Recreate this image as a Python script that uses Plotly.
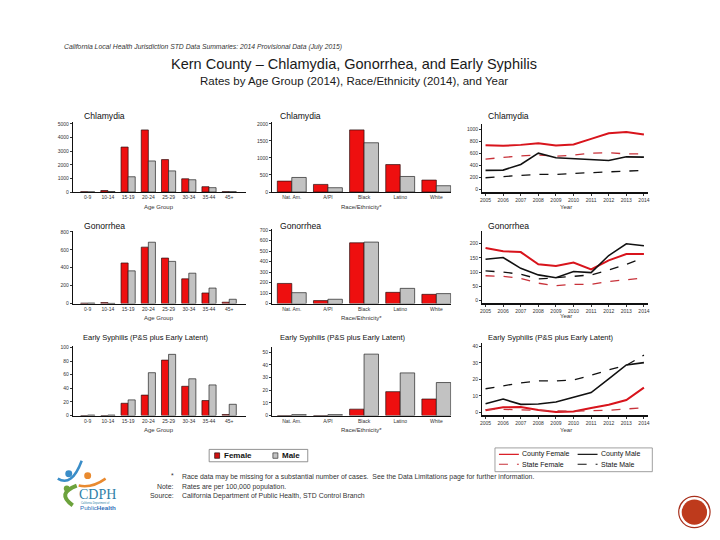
import plotly.graph_objects as go

W, H = 720, 540
FONT = "Liberation Sans"

# ---------------- data ----------------
age_groups = ["0-9", "10-14", "15-19", "20-24", "25-29", "30-34", "35-44", "45+"]
races = ["Nat. Am.", "A/PI", "Black", "Latino", "White"]
years = [2005, 2006, 2007, 2008, 2009, 2010, 2011, 2012, 2013, 2014]

chl_age_female = [15, 110, 3300, 4560, 2380, 970, 390, 25]
chl_age_male = [5, 30, 1120, 2280, 1550, 900, 320, 20]
chl_race_female = [320, 223, 1825, 806, 350]
chl_race_male = [427, 126, 1447, 456, 184]
chl_county_female = [739, 728, 744, 772, 733, 750, 844, 939, 961, 917]
chl_county_male = [317, 322, 417, 606, 528, 517, 494, 483, 544, 539]
chl_state_female = [506, 533, 561, 572, 556, 572, 606, 611, 594, 594]
chl_state_male = [194, 217, 233, 250, 250, 267, 278, 289, 294, 317]

gon_age_female = [5, 11, 453, 630, 508, 276, 118, 15]
gon_age_male = [6, 2, 365, 685, 471, 339, 173, 48]
gon_race_female = [192, 28, 580, 107, 88]
gon_race_male = [104, 41, 587, 145, 95]
gon_county_female = [184, 173, 170, 127, 121, 133, 109, 141, 163, 163]
gon_county_male = [145, 151, 113, 90, 80, 102, 98, 158, 199, 192]
gon_state_female = [87, 85, 78, 61, 52, 57, 57, 67, 73, 80]
gon_state_male = [104, 100, 92, 76, 80, 85, 90, 107, 127, 150]

syp_age_female = [0, 0, 18, 30, 81.5, 43, 22, 1.5]
syp_age_male = [0.7, 0.7, 23, 63, 90, 54, 45, 16.5]
syp_race_female = [0, 0, 5, 18.8, 13]
syp_race_male = [0.7, 0.7, 48.4, 33.6, 26]
syp_county_female = [1.2, 3.0, 3.2, 1.4, 0.1, 0.4, 2.6, 4.6, 7.4, 15]
syp_county_male = [5.2, 8.0, 4.8, 5.0, 6.2, 8.9, 12, 20.3, 28.8, 30.2]
syp_state_female = [1.6, 1.8, 1.4, 1.2, 0.6, 0.6, 1.0, 1.2, 2.0, 2.8]
syp_state_male = [14.3, 16.1, 17.9, 19.1, 19.1, 19.7, 22.5, 25.8, 28.6, 34.8]

# ---------------- styles ----------------
RED = "#EE0F0F"
GRAY = "#C2C2C2"
EDGE = "#2a1010"
LRED = "#D8141C"
DRED = "#C8323A"

def px(x):
    return x / W

def py(y):
    return 1 - y / H

fig = go.Figure()
annotations = []
shapes = []

def ann(text, x, y, size, xanchor="left", color="#222", bold=False, italic=False, family=FONT, yanchor="middle"):
    if bold:
        text = "<b>" + text + "</b>"
    if italic:
        text = "<i>" + text + "</i>"
    annotations.append(dict(text=text, x=px(x), y=py(y), xref="paper", yref="paper",
                            xanchor=xanchor, yanchor=yanchor, showarrow=False,
                            font=dict(size=size, color=color, family=family)))

layout_axes = {}

def setup_axes(i, x0, x1, xrange, zero_px, tick_px, tick_val, yrange, dtick,
               xtype, xtickvals=None, thick_x=False):
    scale = (zero_px - tick_px) / tick_val
    top = zero_px - scale * yrange[1]
    bottom = zero_px - scale * yrange[0]
    xn = "xaxis" if i == 1 else "xaxis%d" % i
    yn = "yaxis" if i == 1 else "yaxis%d" % i
    xa = dict(domain=[px(x0), px(x1)], range=xrange, anchor="y%d" % i if i > 1 else "y",
              showline=True, linecolor="#111", linewidth=1.6 if thick_x else 1.0,
              showgrid=False, zeroline=False, ticks="outside" if xtype == "linear" else "",
              ticklen=2, tickwidth=0.6, tickcolor="#333",
              tickfont=dict(size=5, color="#333", family=FONT), type=xtype, fixedrange=True)
    if xtickvals is not None:
        xa["tickvals"] = xtickvals
    ya = dict(domain=[py(bottom), py(top)], range=yrange, anchor="x%d" % i if i > 1 else "x",
              showline=True, linecolor="#111", linewidth=0.8, showgrid=False, zeroline=False,
              ticks="outside", ticklen=2, tickwidth=0.6, tickcolor="#333",
              tick0=0, dtick=dtick, tickfont=dict(size=5, color="#333", family=FONT),
              fixedrange=True)
    layout_axes[xn] = xa
    layout_axes[yn] = ya

def bars(i, cats, fem, mal, w):
    xr = "x" if i == 1 else "x%d" % i
    yr = "y" if i == 1 else "y%d" % i
    fig.add_trace(go.Bar(x=cats, y=fem, xaxis=xr, yaxis=yr, width=w, offset=-w,
                         marker=dict(color=RED, line=dict(color=EDGE, width=0.7)),
                         showlegend=False, name="Female"))
    fig.add_trace(go.Bar(x=cats, y=mal, xaxis=xr, yaxis=yr, width=w, offset=0,
                         marker=dict(color=GRAY, line=dict(color="#222", width=0.7)),
                         showlegend=False, name="Male"))

def lines(i, cf, cm, sf, sm):
    xr = "x" if i == 1 else "x%d" % i
    yr = "y" if i == 1 else "y%d" % i
    fig.add_trace(go.Scatter(x=years, y=cf, mode="lines", xaxis=xr, yaxis=yr,
                             line=dict(color=LRED, width=2.0), showlegend=False, name="County Female"))
    fig.add_trace(go.Scatter(x=years, y=sf, mode="lines", xaxis=xr, yaxis=yr,
                             line=dict(color=DRED, width=1.3, dash="dash"), showlegend=False, name="State Female"))
    fig.add_trace(go.Scatter(x=years, y=cm, mode="lines", xaxis=xr, yaxis=yr,
                             line=dict(color="#111", width=1.6), showlegend=False, name="County Male"))
    fig.add_trace(go.Scatter(x=years, y=sm, mode="lines", xaxis=xr, yaxis=yr,
                             line=dict(color="#111", width=1.3, dash="dash"), showlegend=False, name="State Male"))

AGE_X = (63, 237, [-0.74, 7.83])
RACE_X = (263, 443, [-0.55, 4.41])
YEAR_X = (474, 641, [2004.8, 2014.25])

# Row 1 - Chlamydia
setup_axes(1, AGE_X[0], AGE_X[1], AGE_X[2], 183.7, 115, 5000, [0, 5150], 1000, "category")
bars(1, age_groups, chl_age_female, chl_age_male, 0.35)
setup_axes(2, RACE_X[0], RACE_X[1], RACE_X[2], 183.7, 115, 2000, [0, 2060], 500, "category")
bars(2, races, chl_race_female, chl_race_male, 0.4)
setup_axes(3, YEAR_X[0], YEAR_X[1], YEAR_X[2], 181, 120.7, 1000, [-40, 1090], 200, "linear",
           xtickvals=years, thick_x=True)
lines(3, chl_county_female, chl_county_male, chl_state_female, chl_state_male)

# Row 2 - Gonorrhea
setup_axes(4, AGE_X[0], AGE_X[1], AGE_X[2], 296.3, 224, 800, [0, 815], 200, "category")
bars(4, age_groups, gon_age_female, gon_age_male, 0.35)
setup_axes(5, RACE_X[0], RACE_X[1], RACE_X[2], 296.3, 222.3, 700, [0, 715], 100, "category")
bars(5, races, gon_race_female, gon_race_male, 0.4)
setup_axes(6, YEAR_X[0], YEAR_X[1], YEAR_X[2], 293.3, 235.7, 200, [-9, 244], 50, "linear",
           xtickvals=years, thick_x=True)
lines(6, gon_county_female, gon_county_male, gon_state_female, gon_state_male)

# Row 3 - Early Syphilis
setup_axes(7, AGE_X[0], AGE_X[1], AGE_X[2], 409.3, 340.7, 100, [0, 102], 20, "category")
bars(7, age_groups, syp_age_female, syp_age_male, 0.35)
setup_axes(8, RACE_X[0], RACE_X[1], RACE_X[2], 409.3, 345.3, 50, [0, 54], 10, "category")
bars(8, races, syp_race_female, syp_race_male, 0.4)
setup_axes(9, YEAR_X[0], YEAR_X[1], YEAR_X[2], 406, 339.7, 40, [-1.8, 42], 10, "linear",
           xtickvals=years, thick_x=True)
lines(9, syp_county_female, syp_county_male, syp_state_female, syp_state_male)

# ---------------- panel titles & axis titles ----------------
for (x, y, t, s) in [(72.7, 107, "Chlamydia", 8.6), (269.3, 107, "Chlamydia", 8.6), (477.7, 107, "Chlamydia", 8.6),
                     (72.7, 218.3, "Gonorrhea", 8.6), (269.3, 218.3, "Gonorrhea", 8.6), (478.3, 218.3, "Gonorrhea", 8.6)]:
    ann(t, x, y, s, color="#111")
for x in (71.7, 269.3, 477.7):
    ann("Early Syphilis (P&S plus Early Latent)", x, 331, 7.5, color="#111")

for (yy, yyy) in [(199, 199), (311, 309), (424, 424)]:
    ann("Age Group", 150, yy, 6, xanchor="center", color="#333")
    ann("Race/Ethnicity*", 353, yy, 6, xanchor="center", color="#333")
    ann("Year", 558, yyy, 6, xanchor="center", color="#333")

# ---------------- headers ----------------
ann("California Local Health Jurisdiction STD Data Summaries: 2014 Provisional Data (July 2015)",
    52, 37, 6.8, color="#333", italic=True)
ann("Kern County \u2013 Chlamydia, Gonorrhea, and Early Syphilis", 345, 55, 14.5, xanchor="center", color="#1a1a1a")
ann("Rates by Age Group (2014), Race/Ethnicity (2014), and Year", 345, 72, 11.5, xanchor="center", color="#1a1a1a")

# ---------------- bar legend ----------------
shapes.append(dict(type="rect", xref="paper", yref="paper", x0=px(200), x1=px(299), y0=py(456), y1=py(443.5),
                   line=dict(color="#777", width=0.8), fillcolor="white"))
shapes.append(dict(type="rect", xref="paper", yref="paper", x0=px(205.5), x1=px(210.5), y0=py(452.5), y1=py(447),
                   line=dict(color=EDGE, width=0.7), fillcolor="#D01010"))
shapes.append(dict(type="rect", xref="paper", yref="paper", x0=px(264), x1=px(269), y0=py(452.5), y1=py(447),
                   line=dict(color="#333", width=0.7), fillcolor=GRAY))
ann("Female", 212.5, 449.8, 8, color="#111", bold=True)
ann("Male", 271.5, 449.8, 8, color="#111", bold=True)

# ---------------- line legend ----------------
shapes.append(dict(type="rect", xref="paper", yref="paper", x0=px(487), x1=px(645), y0=py(466), y1=py(442),
                   line=dict(color="#888", width=0.8), fillcolor="white"))
for (x0, y0, col, dash, lbl) in [(491, 448.5, LRED, "solid", "County Female"),
                                  (570, 448.5, "#111", "solid", "County Male"),
                                  (491, 458.5, DRED, "dash", "State Female"),
                                  (570, 458.5, "#111", "dash", "State Male")]:
    shapes.append(dict(type="line", xref="paper", yref="paper", x0=px(x0), x1=px(x0 + 20), y0=py(y0), y1=py(y0),
                       line=dict(color=col, width=1.2, dash=dash)))
    ann(lbl, x0 + 21, y0, 7, color="#111")

# ---------------- footnotes ----------------
ann("*", 167, 470, 6.8, xanchor="right", color="#333")
ann("Race data may be missing for a substantial number of cases.  See the Data Limitations page for further information.",
    171, 471.5, 6.9, color="#333")
ann("Note:", 167, 481, 6.9, xanchor="right", color="#333")
ann("Rates are per 100,000 population.", 171, 481, 6.9, color="#333")
ann("Source:", 167, 490.5, 6.9, xanchor="right", color="#333")
ann("California Department of Public Health, STD Control Branch", 171, 490.5, 6.9, color="#333")

# ---------------- CDPH logo (simplified) ----------------
shapes.append(dict(type="circle", xref="paper", yref="paper", x0=px(55.5), x1=px(62.5), y0=py(471.5), y1=py(464.5),
                   fillcolor="#3A8DC8", line=dict(width=0)))
shapes.append(dict(type="path", xref="paper", yref="paper",
                   path="M %f,%f Q %f,%f %f,%f" % (px(48), py(473), px(62), py(482), px(72), py(455)),
                   line=dict(color="#3A8DC8", width=2.5)))
shapes.append(dict(type="circle", xref="paper", yref="paper", x0=px(74.5), x1=px(81.5), y0=py(473.5), y1=py(466.5),
                   fillcolor="#E98A2F", line=dict(width=0)))
shapes.append(dict(type="path", xref="paper", yref="paper",
                   path="M %f,%f Q %f,%f %f,%f" % (px(69), py(480), px(82), py(483), px(96), py(473)),
                   line=dict(color="#E98A2F", width=2.5)))
shapes.append(dict(type="path", xref="paper", yref="paper",
                   path="M %f,%f Q %f,%f %f,%f" % (px(67), py(480), px(46), py(488), px(63), py(500)),
                   line=dict(color="#6CA23C", width=4)))
shapes.append(dict(type="circle", xref="paper", yref="paper", x0=px(54), x1=px(60), y0=py(486), y1=py(480),
                   fillcolor="#6CA23C", line=dict(width=0)))
ann("CDPH", 67, 489.5, 14, color="#2F7FA8", family="Liberation Serif")
ann("California Department of", 69, 497.5, 2.6, color="#2F7FA8")
ann("Public<b>Health</b>", 68, 502.5, 6.2, color="#2F6FB8")

# ---------------- bottom-right badge ----------------
shapes.append(dict(type="circle", xref="paper", yref="paper", x0=px(671.5), x1=px(703), y0=py(522.5), y1=py(491),
                   fillcolor="white", line=dict(color="#A8301C", width=1.2)))
shapes.append(dict(type="circle", xref="paper", yref="paper", x0=px(674.5), x1=px(700), y0=py(519.5), y1=py(494),
                   fillcolor="#BE3A1C", line=dict(width=0)))

fig.update_layout(
    width=W, height=H, margin=dict(l=0, r=0, t=0, b=0),
    paper_bgcolor="white", plot_bgcolor="white",
    barmode="overlay", showlegend=False,
    annotations=annotations, shapes=shapes,
    font=dict(family=FONT),
    **layout_axes
)

fig.write_html("out.html")
